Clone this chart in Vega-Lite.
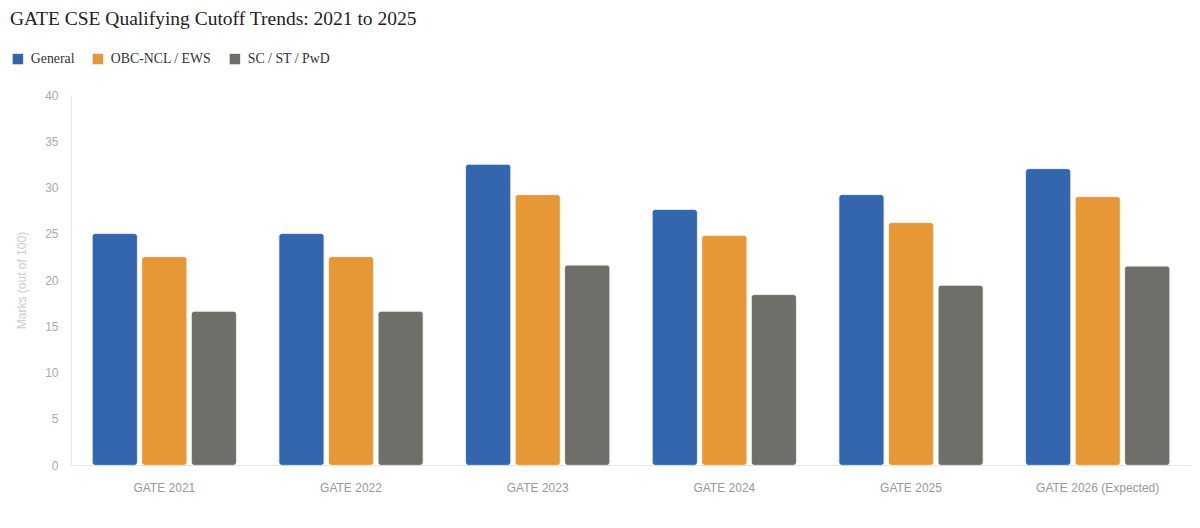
{
  "$schema": "https://vega.github.io/schema/vega-lite/v6.json",
  "width": 1120,
  "height": 370,
  "autosize": {"type": "none"},
  "padding": {"left": 71, "top": 95, "right": 9, "bottom": 63},
  "background": "white",
  "title": {
    "text": "GATE CSE Qualifying Cutoff Trends: 2021 to 2025",
    "anchor": "start",
    "frame": "group",
    "dx": -61,
    "offset": 23,
    "font": "Liberation Serif",
    "fontSize": 19.5,
    "fontWeight": "normal",
    "color": "#222222"
  },
  "data": {
    "values": [
      {"exam": "GATE 2021", "category": "General", "marks": 25.0},
      {"exam": "GATE 2021", "category": "OBC-NCL / EWS", "marks": 22.5},
      {"exam": "GATE 2021", "category": "SC / ST / PwD", "marks": 16.6},
      {"exam": "GATE 2022", "category": "General", "marks": 25.0},
      {"exam": "GATE 2022", "category": "OBC-NCL / EWS", "marks": 22.5},
      {"exam": "GATE 2022", "category": "SC / ST / PwD", "marks": 16.6},
      {"exam": "GATE 2023", "category": "General", "marks": 32.5},
      {"exam": "GATE 2023", "category": "OBC-NCL / EWS", "marks": 29.2},
      {"exam": "GATE 2023", "category": "SC / ST / PwD", "marks": 21.6},
      {"exam": "GATE 2024", "category": "General", "marks": 27.6},
      {"exam": "GATE 2024", "category": "OBC-NCL / EWS", "marks": 24.8},
      {"exam": "GATE 2024", "category": "SC / ST / PwD", "marks": 18.4},
      {"exam": "GATE 2025", "category": "General", "marks": 29.2},
      {"exam": "GATE 2025", "category": "OBC-NCL / EWS", "marks": 26.2},
      {"exam": "GATE 2025", "category": "SC / ST / PwD", "marks": 19.4},
      {"exam": "GATE 2026 (Expected)", "category": "General", "marks": 32.0},
      {"exam": "GATE 2026 (Expected)", "category": "OBC-NCL / EWS", "marks": 29.0},
      {"exam": "GATE 2026 (Expected)", "category": "SC / ST / PwD", "marks": 21.5}
    ]
  },
  "mark": {"type": "bar", "cornerRadius": 3, "strokeWidth": 1, "strokeOpacity": 0.35},
  "encoding": {
    "x": {
      "field": "exam",
      "type": "nominal",
      "sort": null,
      "scale": {"paddingInner": 0.23, "paddingOuter": 0.115},
      "axis": {
        "title": null,
        "labelAngle": 0,
        "labelFont": "Liberation Sans",
        "labelFontSize": 12,
        "labelColor": "#999999",
        "labelPadding": 17,
        "ticks": false,
        "domainColor": "#e6e6e6",
        "grid": false
      }
    },
    "xOffset": {
      "field": "category",
      "type": "nominal",
      "sort": null,
      "scale": {"paddingInner": 0.1, "paddingOuter": 0}
    },
    "y": {
      "field": "marks",
      "type": "quantitative",
      "scale": {"domain": [0, 40]},
      "axis": {
        "title": "Marks (out of 100)",
        "titleFont": "Liberation Sans",
        "titleFontSize": 12,
        "titleFontWeight": "normal",
        "titleColor": "#cccccc",
        "titlePadding": 16,
        "values": [0, 5, 10, 15, 20, 25, 30, 35, 40],
        "labelFont": "Liberation Sans",
        "labelFontSize": 12,
        "labelColor": "#aaaaaa",
        "labelPadding": 13,
        "ticks": false,
        "domainColor": "#e6e6e6",
        "grid": false
      }
    },
    "color": {
      "field": "category",
      "type": "nominal",
      "sort": null,
      "scale": {
        "domain": ["General", "OBC-NCL / EWS", "SC / ST / PwD"],
        "range": ["#3366ad", "#e69836", "#6f6f69"]
      },
      "legend": {
        "title": null,
        "orient": "none",
        "legendX": -60,
        "legendY": -43,
        "direction": "horizontal",
        "symbolType": "square",
        "symbolSize": 110,
        "symbolStrokeWidth": 0,
        "labelFont": "Liberation Serif",
        "labelFontSize": 13.8,
        "labelColor": "#333333",
        "labelOffset": 6,
        "columnPadding": 16
      }
    },
    "stroke": {
      "field": "category",
      "type": "nominal",
      "sort": null,
      "scale": {
        "domain": ["General", "OBC-NCL / EWS", "SC / ST / PwD"],
        "range": ["#6e9ad6", "#f5c079", "#a5a5a0"]
      },
      "legend": null
    }
  },
  "config": {"view": {"stroke": null}}
}
